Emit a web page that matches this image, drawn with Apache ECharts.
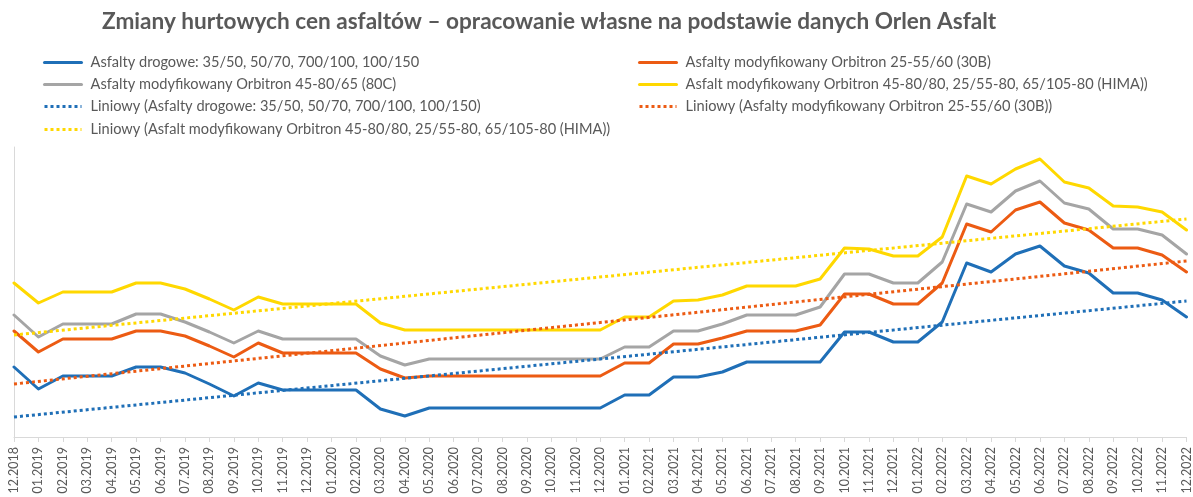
<!DOCTYPE html>
<html>
<head>
<meta charset="utf-8">
<script src="https://cdn.jsdelivr.net/npm/echarts@6/dist/echarts.min.js"></script>
<style>
html,body{margin:0;padding:0;background:#fff;}
#chart{width:1193px;height:497px;}
</style>
</head>
<body>
<div id="chart"></div>
<script>
const titleText = 'Zmiany hurtowych cen asfaltów – opracowanie własne na podstawie danych Orlen Asfalt';

const categories = ['12.2018','01.2019','02.2019','03.2019','04.2019','05.2019','06.2019','07.2019','08.2019','09.2019','10.2019','11.2019','12.2019',
'01.2020','02.2020','03.2020','04.2020','05.2020','06.2020','07.2020','08.2020','09.2020','10.2020','11.2020','12.2020',
'01.2021','02.2021','03.2021','04.2021','05.2021','06.2021','07.2021','08.2021','09.2021','10.2021','11.2021','12.2021',
'01.2022','02.2022','03.2022','04.2022','05.2022','06.2022','07.2022','08.2022','09.2022','10.2022','11.2022','12.2022'];

const names = [
  'Asfalty drogowe: 35/50, 50/70, 700/100, 100/150',
  'Asfalty modyfikowany Orbitron 25-55/60 (30B)',
  'Asfalty modyfikowany Orbitron 45-80/65 (80C)',
  'Asfalt modyfikowany Orbitron 45-80/80, 25/55-80, 65/105-80 (HIMA))',
  'Liniowy (Asfalty drogowe: 35/50, 50/70, 700/100, 100/150)',
  'Liniowy (Asfalty modyfikowany Orbitron 25-55/60 (30B))',
  'Liniowy (Asfalt modyfikowany Orbitron 45-80/80, 25/55-80, 65/105-80 (HIMA))'
];

const drogowe = [1700,1480,1610,1610,1610,1700,1700,1640,1530,1410,1540,1470,1470,
1470,1470,1280,1210,1290,1290,1290,1290,1290,1290,1290,1290,
1420,1420,1600,1600,1650,1750,1750,1750,1750,2050,2050,1950,
1950,2150,2740,2650,2830,2910,2710,2640,2440,2440,2370,2200];

const orbitron30B = [2060,1850,1980,1980,1980,2060,2060,2010,1910,1800,1940,1840,1840,
1840,1840,1680,1590,1610,1610,1610,1610,1610,1610,1610,1610,
1740,1740,1930,1930,1990,2060,2060,2060,2120,2430,2430,2330,
2330,2540,3130,3050,3270,3350,3140,3070,2890,2890,2820,2650];

const orbitron80C = [2220,2000,2130,2130,2130,2230,2230,2150,2050,1940,2060,1980,1980,
1980,1980,1810,1720,1780,1780,1780,1780,1780,1780,1780,1780,
1900,1900,2060,2060,2130,2220,2220,2220,2300,2630,2630,2540,
2540,2750,3330,3250,3460,3560,3340,3280,3080,3080,3020,2830];

const orbitronHIMA = [2540,2340,2450,2450,2450,2540,2540,2480,2380,2270,2400,2330,2330,
2330,2330,2140,2070,2070,2070,2070,2070,2070,2070,2070,2070,
2200,2200,2360,2370,2420,2510,2510,2510,2580,2890,2880,2810,
2810,3000,3610,3530,3680,3780,3550,3490,3310,3300,3250,3070];

// trend line end values (start at first category, end at last category)
const trendDrogowe = [1200, 2360];
const trend30B = [1530, 2760];
const trendHIMA = [2020, 3180];

const colors = ['#1F6FB7', '#EC5B13', '#A5A5A5', '#FFD800'];

const chart = echarts.init(document.getElementById('chart'), null, {renderer:'canvas'});

const first = categories[0], last = categories[categories.length-1];
function trendData(t){ return [[first, t[0]], [last, t[1]]]; }

function solid(name, data, color){
  return {name, type:'line', data, symbol:'none', smooth:false,
    lineStyle:{color, width:3, cap:'round', join:'round'}, itemStyle:{color}, z:2};
}
function dotted(name, data, color){
  return {name, type:'line', data, symbol:'none',
    lineStyle:{color, width:3, type:[3,3], cap:'butt'}, itemStyle:{color}, z:3};
}

const legendFont = {fontFamily:'Lato', fontSize:14.6, color:'#595959', padding:[0,0,0,4]};
const legendPos = [
  {left:43, top:55}, {left:638, top:55},
  {left:43, top:77}, {left:638, top:77},
  {left:43, top:99}, {left:638, top:99},
  {left:43, top:122}
];
const legends = names.map((n,i)=>({
  data:[n], left:legendPos[i].left, top:legendPos[i].top, padding:0,
  itemWidth:37, itemHeight:14, textStyle:legendFont, selectedMode:false,
  itemStyle:{opacity:0, borderWidth:0},
  lineStyle:{width:3}
}));

chart.setOption({
  animation:false,
  backgroundColor:'#ffffff',
  title:{text:titleText, left:102, top:10, padding:0,
    textStyle:{fontFamily:'Lato', fontSize:22.6, fontWeight:'bold', color:'#595959'}},
  legend:legends,
  grid:{left:14, right:6, top:147, bottom:60, containLabel:false},
  xAxis:{type:'category', data:categories, boundaryGap:false,
    axisLine:{show:true, lineStyle:{color:'#D9D9D9', width:1}},
    axisTick:{show:true, length:5, alignWithLabel:true, lineStyle:{color:'#D9D9D9'}},
    axisLabel:{rotate:90, interval:0, margin:10, fontFamily:'Lato', fontSize:12.5, color:'#595959'},
    splitLine:{show:false}},
  yAxis:{type:'value', min:1000, max:3900,
    axisLine:{show:true, lineStyle:{color:'#D9D9D9', width:1}},
    axisTick:{show:false}, axisLabel:{show:false}, splitLine:{show:false}},
  series:[
    solid(names[0], drogowe, colors[0]),
    solid(names[1], orbitron30B, colors[1]),
    solid(names[2], orbitron80C, colors[2]),
    solid(names[3], orbitronHIMA, colors[3]),
    dotted(names[4], trendData(trendDrogowe), colors[0]),
    dotted(names[5], trendData(trend30B), colors[1]),
    dotted(names[6], trendData(trendHIMA), colors[3])
  ]
});
</script>
</body>
</html>
